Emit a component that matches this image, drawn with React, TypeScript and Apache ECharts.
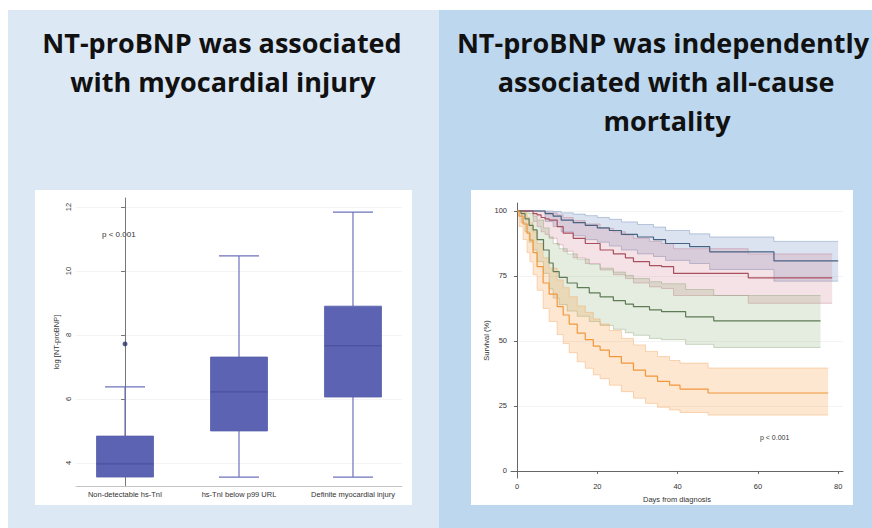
import React, { useEffect, useRef } from "react";
import * as echarts from "echarts";

// ---------- Left panel: box plot ----------
const boxCategories = ["Non-detectable hs-TnI", "hs-TnI below p99 URL", "Definite myocardial injury"];
const boxMin = [3.56, 3.56, 3.56];
const boxQ1 = [3.56, 5.0, 6.06];
const boxMedian = [3.97, 6.22, 7.66];
const boxQ3 = [4.84, 7.31, 8.9];
const boxMax = [6.38, 10.47, 11.84];
const outlierPoints = [[0, 7.72]];
const boxTicks = [4, 6, 8, 10, 12];

// ---------- Right panel: Kaplan-Meier ----------
const kmTicksX = [0, 20, 40, 60, 80];
const kmTicksY = [0, 25, 50, 75, 100];

const blueTimes = [0, 7, 9, 11, 14, 17, 20, 23, 26, 30, 34, 37, 43, 48, 64, 80];
const blueSurv = [100, 99, 98, 96.5, 95.5, 94.5, 93.5, 92.5, 91, 90, 89, 87.5, 86.3, 84.3, 80.8, 80.8];
const blueUpper = [100, 100, 99.8, 99.3, 98.8, 98.2, 97.5, 96.8, 95.8, 94.8, 93.8, 92.5, 91.2, 90, 88.3, 88.3];
const blueLower = [100, 96, 94, 92, 90.5, 89, 88, 86.5, 85, 83.5, 82.5, 81, 79.8, 77.5, 73, 73];

const redTimes = [0, 4, 5, 6, 7, 8, 10, 11.5, 14, 17, 20.7, 24, 27, 29, 33, 36, 39, 57.6, 78.5];
const redSurv = [100, 99, 98.5, 97.5, 97, 96.5, 94, 91.5, 89.5, 87.5, 85, 83.5, 82, 80.5, 79, 78.6, 76, 74.3, 74.3];
const redUpper = [100, 100, 100, 99.8, 99.6, 99.3, 98.5, 97.5, 96.3, 95, 93.3, 92, 90.8, 89.5, 88.3, 87.5, 85.5, 83.5, 83.5];
const redLower = [100, 96, 94, 92, 91, 89.5, 87, 84.5, 82, 79.8, 77.3, 75.5, 74, 72.3, 70.8, 70.2, 67.5, 64.5, 64.5];

const greenTimes = [0, 1, 2, 3, 4, 5, 6.6, 8, 9, 10.5, 12.5, 15, 18, 20.7, 24, 27, 29, 33, 36, 42, 49, 75.6];
const greenSurv = [100, 99, 97, 94.5, 92.7, 89, 85, 80, 76.7, 74.5, 72.3, 70.5, 68.5, 67, 65.5, 64.2, 63.2, 62, 61.3, 59.3, 57.7, 57.7];
const greenUpper = [100, 100, 99.8, 99, 98, 96.5, 93.5, 90, 87.5, 85.5, 83.5, 81.5, 79.5, 78, 76.5, 75.2, 74, 72.8, 72, 69.8, 67.5, 67.5];
const greenLower = [100, 95.5, 92, 88, 85, 80.5, 76, 70, 66.5, 64, 61.5, 59.5, 57.5, 56, 54.5, 53.2, 52.2, 51, 50.5, 48.7, 47.5, 47.5];

const orangeTimes = [0, 0.5, 1.5, 2.5, 3.2, 4, 5, 6.5, 8, 10, 11.5, 13, 15, 17, 19, 20.7, 23, 26, 29, 32, 35, 38, 40.6, 47.6, 77.5];
const orangeSurv = [100, 98, 95, 91.5, 88.8, 84, 78.6, 72.3, 68, 63.2, 60, 56.5, 53, 50.5, 48, 46.5, 44, 41.5, 38.8, 36.5, 34.5, 33, 31.5, 30, 30];
const orangeUpper = [100, 100, 99.5, 97.5, 95.5, 92, 87.5, 82, 78, 73.5, 70.5, 67, 63.5, 61, 58.5, 56.5, 54, 51, 48.5, 46, 44, 42.5, 41.5, 39.6, 39.6];
const orangeLower = [100, 94, 89, 84, 80.5, 75.5, 69.5, 62.5, 57.5, 52.5, 49, 45.5, 42, 39.5, 37, 35.5, 33, 30.5, 28, 26, 24.5, 23.5, 22.5, 21.5, 21.5];

const kmGroups = [
  { times: blueTimes, surv: blueSurv, lo: blueLower, hi: blueUpper, line: "#4a6282", fill: "rgba(105,140,195,0.24)", edge: "rgba(100,130,175,0.5)" },
  { times: redTimes, surv: redSurv, lo: redLower, hi: redUpper, line: "#a8505f", fill: "rgba(205,110,130,0.2)", edge: "rgba(190,110,125,0.45)" },
  { times: greenTimes, surv: greenSurv, lo: greenLower, hi: greenUpper, line: "#5f7b55", fill: "rgba(125,165,100,0.2)", edge: "rgba(120,150,100,0.45)" },
  { times: orangeTimes, surv: orangeSurv, lo: orangeLower, hi: orangeUpper, line: "#f0963c", fill: "rgba(250,155,60,0.24)", edge: "rgba(240,160,90,0.5)" },
];

const smallFont = "Liberation Sans";
const titleFont = 'bold 27px "Open Sans"';

function stepPoints(api: any, times: number[], vals: number[]) {
  const pts: number[][] = [];
  for (let i = 0; i < times.length; i++) {
    const p = api.coord([times[i], vals[i]]);
    if (i > 0) {
      const prev = pts[pts.length - 1];
      pts.push([p[0], prev[1]]);
    }
    pts.push(p);
  }
  return pts;
}

export default function App() {
  const ref = useRef<HTMLDivElement>(null);

  useEffect(() => {
    if (!ref.current) return;
    const chart = echarts.init(ref.current, undefined, { renderer: "svg" });

    const bandSeries: any[] = [];
    const lineSeries: any[] = [];
    kmGroups.forEach((g, gi) => {
      bandSeries.push({
        type: "custom",
        xAxisIndex: 1,
        yAxisIndex: 1,
        silent: true,
        data: [[g.times[0], g.hi[0], gi]],
        renderItem: (params: any, api: any) => {
          const grp = kmGroups[api.value(2)];
          const up = stepPoints(api, grp.times, grp.hi);
          const low = stepPoints(api, grp.times, grp.lo);
          const poly = up.concat(low.slice().reverse());
          return {
            type: "group",
            children: [
              { type: "polygon", shape: { points: poly }, style: { fill: grp.fill, stroke: "none" } },
              { type: "polyline", shape: { points: up }, style: { fill: "none", stroke: grp.edge, lineWidth: 0.8 } },
              { type: "polyline", shape: { points: low }, style: { fill: "none", stroke: grp.edge, lineWidth: 0.8 } },
            ],
          };
        },
        z: 1,
      });
      lineSeries.push({
        type: "line",
        xAxisIndex: 1,
        yAxisIndex: 1,
        step: "end",
        symbol: "none",
        silent: true,
        data: g.times.map((t, i) => [t, g.surv[i]]),
        lineStyle: { color: g.line, width: 1.2 },
        z: 3,
      });
    });

    const boxData = boxCategories.map((_, i) => [i, boxMin[i], boxQ1[i], boxMedian[i], boxQ3[i], boxMax[i]]);

    const option: any = {
      animation: false,
      textStyle: { fontFamily: smallFont },
      grid: [
        { left: 76, top: 198, width: 326, height: 288 },
        { left: 511, top: 203, width: 332, height: 275 },
      ],
      xAxis: [
        {
          gridIndex: 0,
          type: "value",
          min: -0.43,
          max: 2.43,
          axisLine: { show: true, lineStyle: { color: "#c4c4c4", width: 1 } },
          axisTick: { show: false },
          splitLine: { show: false },
          axisLabel: {
            customValues: [0, 1, 2],
            formatter: (v: number) => boxCategories[Math.round(v)] ?? "",
            fontSize: 7.5,
            color: "#333",
            margin: 4,
            fontFamily: smallFont,
          },
        },
        {
          gridIndex: 1,
          type: "value",
          min: -1.5,
          max: 81.2,
          axisLine: { show: true, lineStyle: { color: "#666", width: 1 } },
          axisTick: { show: true, customValues: kmTicksX, length: 3, lineStyle: { color: "#666" } },
          splitLine: { show: false },
          axisLabel: { customValues: kmTicksX, fontSize: 7.5, color: "#333", margin: 4, fontFamily: smallFont },
          name: "Days from diagnosis",
          nameLocation: "middle",
          nameGap: 17,
          nameTextStyle: { fontSize: 7.5, color: "#333", fontFamily: smallFont },
        },
      ],
      yAxis: [
        {
          gridIndex: 0,
          type: "value",
          min: 3.28,
          max: 12.28,
          axisLine: { show: true, lineStyle: { color: "#777", width: 1 } },
          axisTick: { show: true, customValues: boxTicks, length: 4, lineStyle: { color: "#777" } },
          splitLine: { show: true, lineStyle: { color: "#f1f1f1", width: 0.8 } },
          axisLabel: { customValues: boxTicks, rotate: 90, fontSize: 7.5, color: "#333", margin: 4, fontFamily: smallFont },
          name: "log [NT-proBNP]",
          nameLocation: "middle",
          nameGap: 16,
          nameTextStyle: { fontSize: 7.5, color: "#333", fontFamily: smallFont },
        },
        {
          gridIndex: 1,
          type: "value",
          min: -2.7,
          max: 103.07,
          axisLine: { show: true, lineStyle: { color: "#666", width: 1 } },
          axisTick: { show: true, customValues: kmTicksY, length: 3, lineStyle: { color: "#666" } },
          splitLine: { show: true, lineStyle: { color: "#f1f1f1", width: 0.8 } },
          axisLabel: { customValues: kmTicksY, fontSize: 7.5, color: "#333", margin: 4, fontFamily: smallFont },
          name: "Survival (%)",
          nameLocation: "middle",
          nameGap: 20,
          nameTextStyle: { fontSize: 7.5, color: "#333", fontFamily: smallFont },
        },
      ],
      graphic: [
        { type: "text", x: 222, y: 42, style: { text: "NT-proBNP was associated", font: titleFont, fill: "#111", align: "center", verticalAlign: "middle" } },
        { type: "text", x: 223, y: 81, style: { text: "with myocardial injury", font: titleFont, fill: "#111", align: "center", verticalAlign: "middle" } },
        { type: "text", x: 663, y: 42, style: { text: "NT-proBNP was independently", font: titleFont, fill: "#111", align: "center", verticalAlign: "middle" } },
        { type: "text", x: 666, y: 81, style: { text: "associated with all-cause", font: titleFont, fill: "#111", align: "center", verticalAlign: "middle" } },
        { type: "text", x: 667, y: 120, style: { text: "mortality", font: titleFont, fill: "#111", align: "center", verticalAlign: "middle" } },
        { type: "text", x: 102, y: 234, style: { text: "p < 0.001", font: '8px "Liberation Sans"', fill: "#333", align: "left", verticalAlign: "middle" } },
        { type: "text", x: 760, y: 437, style: { text: "p < 0.001", font: '7px "Liberation Sans"', fill: "#333", align: "left", verticalAlign: "middle" } },
      ],
      series: [
        {
          type: "custom",
          xAxisIndex: 0,
          yAxisIndex: 0,
          silent: true,
          data: boxData,
          renderItem: (params: any, api: any) => {
            const x = api.value(0);
            const pMin = api.coord([x, api.value(1)]);
            const pQ1 = api.coord([x, api.value(2)]);
            const pMed = api.coord([x, api.value(3)]);
            const pQ3 = api.coord([x, api.value(4)]);
            const pMax = api.coord([x, api.value(5)]);
            const bw = 57;
            const cw = 40;
            const whisk = { stroke: "#6d72bb", lineWidth: 1.2 };
            const cx = pMed[0];
            const children: any[] = [
              { type: "line", shape: { x1: cx, y1: pMax[1], x2: cx, y2: pQ3[1] }, style: whisk },
              { type: "line", shape: { x1: cx - cw / 2, y1: pMax[1], x2: cx + cw / 2, y2: pMax[1] }, style: whisk },
              { type: "line", shape: { x1: cx, y1: pQ1[1], x2: cx, y2: pMin[1] }, style: whisk },
              { type: "rect", shape: { x: cx - bw / 2, y: pQ3[1], width: bw, height: pQ1[1] - pQ3[1] }, style: { fill: "#5c63b2", stroke: "#575eab", lineWidth: 0.8 } },
              { type: "line", shape: { x1: cx - bw / 2, y1: pMed[1], x2: cx + bw / 2, y2: pMed[1] }, style: { stroke: "#474c98", lineWidth: 1 } },
            ];
            if (pMin[1] - pQ1[1] > 1) {
              children.push({ type: "line", shape: { x1: cx - cw / 2, y1: pMin[1], x2: cx + cw / 2, y2: pMin[1] }, style: whisk });
            }
            return { type: "group", children };
          },
          z: 2,
        },
        {
          type: "scatter",
          xAxisIndex: 0,
          yAxisIndex: 0,
          silent: true,
          data: outlierPoints,
          symbolSize: 5,
          itemStyle: { color: "#2c2f66" },
          z: 3,
        },
        ...bandSeries,
        ...lineSeries,
      ],
    };

    chart.setOption(option);
    return () => chart.dispose();
  }, []);

  return (
    <div style={{ position: "fixed", left: 0, top: 0, width: 872, height: 528, background: "#ffffff", overflow: "hidden" }}>
      <div style={{ position: "absolute", left: 8, top: 10, width: 431, height: 518, background: "#dde8f5" }} />
      <div style={{ position: "absolute", left: 439, top: 10, width: 433, height: 518, background: "#bdd7ee" }} />
      <div style={{ position: "absolute", left: 35, top: 190, width: 377, height: 315, background: "#ffffff" }} />
      <div style={{ position: "absolute", left: 471, top: 190, width: 382, height: 315, background: "#ffffff" }} />
      <div ref={ref} style={{ position: "absolute", left: 0, top: 0, width: 872, height: 528 }} />
    </div>
  );
}
